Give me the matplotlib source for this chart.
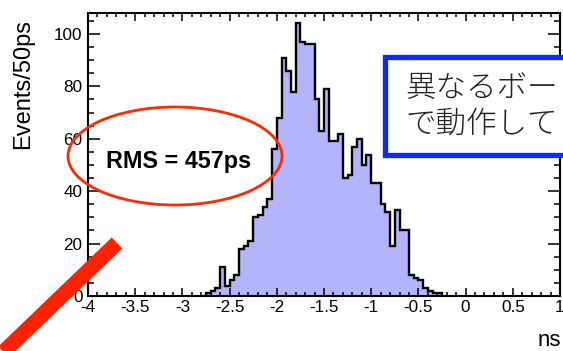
import numpy as np
import matplotlib.pyplot as plt
from matplotlib.patches import Ellipse, Rectangle
from matplotlib.lines import Line2D
from matplotlib.ticker import MultipleLocator

plt.rcParams['font.family'] = ['Liberation Sans', 'DejaVu Sans']
plt.rcParams['axes.unicode_minus'] = False

# histogram contents, 50 ps bins starting at -2.80 ns
bin_start = -2.80
bin_width = 0.05
counts = [0, 1, 2, 3, 11, 4, 6, 8, 18, 19,
          21, 30, 31, 34, 37, 56, 68, 91, 86, 78,
          104, 97, 96, 96, 75, 63, 79, 59, 59, 62,
          45, 46, 57, 60, 50, 54, 43, 43, 35, 32,
          19, 33, 25, 25, 8, 7, 6, 3, 2, 1, 1]
xticks = [-4, -3.5, -3, -2.5, -2, -1.5, -1, -0.5, 0, 0.5, 1]
yticks = [0, 20, 40, 60, 80, 100]
rms_text = 'RMS = 457ps'
jp_lines = ['異なるボー', 'で動作して']

edges = bin_start + bin_width * np.arange(len(counts) + 1)

W, H = 563, 351
fig = plt.figure(figsize=(W / 100, H / 100), dpi=100)
ax = fig.add_axes([88 / W, 1 - 296 / H, 472 / W, 283 / H])

ax.stairs(counts, edges, fill=True, color='#b4b4fa', lw=0)
ax.stairs(counts, edges, color='black', lw=1.7, baseline=0)

ax.set_xlim(-4, 1)
ax.set_ylim(0, 108)
ax.set_xticks(xticks)
ax.set_xticklabels([f'{t:g}' for t in xticks])
ax.set_yticks(yticks)
ax.xaxis.set_minor_locator(MultipleLocator(0.1))
ax.yaxis.set_minor_locator(MultipleLocator(5))
ax.tick_params(which='both', direction='in', top=True, right=True,
               width=1.1, labelsize=12.3)
ax.tick_params(axis='x', which='major', length=6, pad=3)
ax.tick_params(axis='x', which='minor', length=3)
ax.tick_params(axis='y', which='major', length=8.5, pad=4)
ax.tick_params(axis='y', which='minor', length=4.5)
for s in ax.spines.values():
    s.set_linewidth(1.5)

fig.text(23 / W, 1 - 84 / H, 'Events/50ps', rotation=90, fontsize=17,
         ha='center', va='center')
fig.text(561 / W, 1 - 340 / H, 'ns', fontsize=16, ha='right', va='center')

# red ellipse with RMS
fig.add_artist(Ellipse((175 / W, 1 - 156 / H), 214 / W, 98 / H,
                       transform=fig.transFigure, fill=False,
                       edgecolor='#ff2a00', lw=2.0, zorder=5))
fig.text(179 / W, 1 - 168 / H, rms_text, fontsize=16.8, fontweight='bold',
         ha='center', va='baseline', zorder=6)

# blue box with japanese text (cut by the right edge)
fig.add_artist(Rectangle((385 / W, 1 - 155 / H), 300 / W, 98 / H,
                         transform=fig.transFigure, facecolor='white',
                         edgecolor='#0a2aff', lw=3.8, zorder=5))
for i, line in enumerate(jp_lines):
    fig.text(405 / W, 1 - (88 + 36 * i) / H, line, fontsize=22,
             family=['Noto Sans CJK JP', 'DejaVu Sans'], fontweight='light',
             ha='left', va='center', zorder=6, color='#222222')

# thick red line in the lower left corner
fig.add_artist(Line2D([117 / W, -10 / W], [1 - 243 / H, 1 - 365 / H],
                      transform=fig.transFigure, color='#ff2200', lw=11,
                      solid_capstyle='butt', zorder=7))

fig.savefig('out.png', dpi=100)
